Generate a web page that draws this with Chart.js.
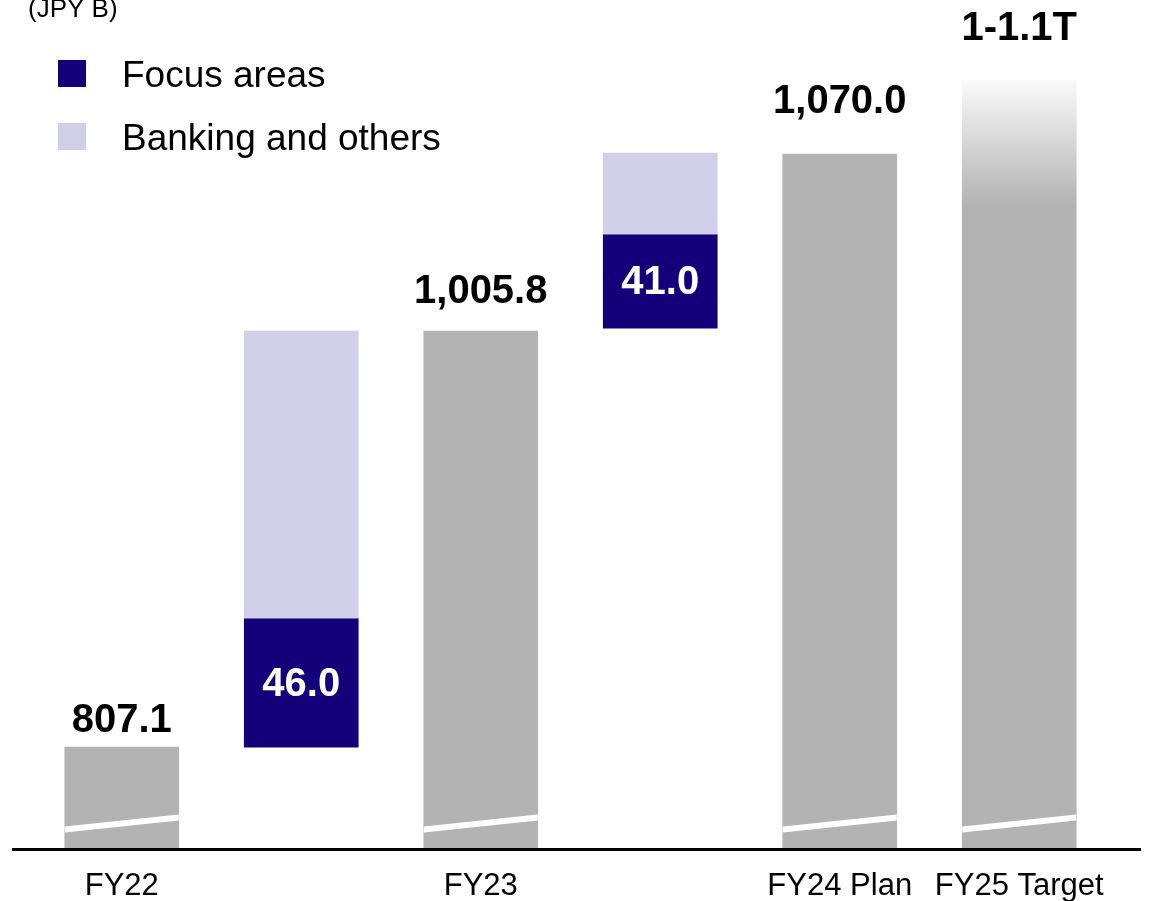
<!DOCTYPE html>
<html>
<head>
<meta charset="utf-8">
<script src="https://cdn.jsdelivr.net/npm/chart.js@4.4.1/dist/chart.umd.min.js"></script>
<style>
  html, body { margin: 0; padding: 0; background: #ffffff; overflow: hidden; }
  #wrap { width: 1153px; height: 901px; position: relative; }
</style>
</head>
<body>
<div id="wrap"><canvas id="c"></canvas></div>
<script>
// ---------------- data ----------------
const unitNote = '(JPY B)';
const categories = ['FY22', '', 'FY23', '', 'FY24 Plan', 'FY25 Target'];

// values printed on the chart (JPY B)
const totalLabels = ['807.1', '', '1,005.8', '', '1,070.0', '1-1.1T'];
const focusLabels = ['', '46.0', '', '41.0', '', ''];

// bar extents as drawn in the (not-to-scale) source, read in JPY B
// against the FY22 (807.1) and FY23 (1,005.8) bars
const totalTops     = [807.1, null, 1005.8, null, 1090.3, 1125.7];
const focusRanges   = [null, [807.1, 868.7], null, [1007.2, 1052.1], null, null];
const bankingRanges = [null, [868.7, 1005.8], null, [1052.1, 1090.8], null, null];

const seriesNames = ['Total', 'Focus areas', 'Banking and others'];

// broken value axis (JPY B)
const Y_MIN = 758.9;
const Y_MAX = 1163.9;

// ---------------- styles ----------------
const FONT = '"Liberation Sans", Arial, Helvetica, sans-serif';
const GRAY = '#B3B3B3';
const FOCUS = '#140078';
const BANK = '#D0D0E8';
const BAR_W = 114;

function totalFill(ctx) {
  const last = categories.length - 1;
  if (ctx.dataIndex !== last) return GRAY;
  const chart = ctx.chart;
  const ys = chart.scales && chart.scales.y;
  if (!chart.chartArea || !ys) return GRAY;
  const top = ys.getPixelForValue(totalTops[last]);
  const g = chart.ctx.createLinearGradient(0, top, 0, top + 125);
  g.addColorStop(0, '#FAFAFA');
  g.addColorStop(1, GRAY);
  return g;
}

function barGeom(chart, el) {
  const p = el.getProps(['x', 'y', 'base', 'width'], true);
  const w = (typeof p.width === 'number' && isFinite(p.width)) ? p.width : BAR_W;
  let base = (typeof p.base === 'number' && isFinite(p.base)) ? p.base : chart.chartArea.bottom;
  base = Math.min(base, chart.chartArea.bottom);
  return { x: p.x, y: p.y, base: base, width: w };
}

const baselinePlugin = {
  id: 'baseline',
  afterDraw(chart, args, opts) {
    const ctx = chart.ctx;
    ctx.save();
    ctx.fillStyle = '#000';
    ctx.fillRect(opts.from, chart.chartArea.bottom, opts.to - opts.from, 3);
    ctx.restore();
  }
};

const labelPlugin = {
  id: 'valueLabels',
  afterDraw(chart, args, opts) {
    const ctx = chart.ctx;
    const totals = chart.getDatasetMeta(0).data;
    const focus = chart.getDatasetMeta(1).data;
    ctx.save();
    // axis-break marks on the total bars
    ctx.fillStyle = '#ffffff';
    totals.forEach((el, i) => {
      if (totalTops[i] == null) return;
      const g = barGeom(chart, el);
      const l = g.x - g.width / 2, r = g.x + g.width / 2, b = g.base;
      ctx.beginPath();
      ctx.moveTo(l, b - 15.5);
      ctx.lineTo(r, b - 27.5);
      ctx.lineTo(r, b - 33.5);
      ctx.lineTo(l, b - 21.5);
      ctx.closePath();
      ctx.fill();
    });
    // totals above bars
    ctx.textAlign = 'center';
    ctx.textBaseline = 'alphabetic';
    ctx.font = 'bold 40px ' + FONT;
    ctx.fillStyle = '#000';
    totalLabels.forEach((t, i) => {
      if (!t) return;
      const g = barGeom(chart, totals[i]);
      ctx.fillText(t, g.x, g.y - opts.gaps[i]);
    });
    // focus-area increments inside bars
    ctx.fillStyle = '#ffffff';
    ctx.textBaseline = 'middle';
    focusLabels.forEach((t, i) => {
      if (!t) return;
      const g = barGeom(chart, focus[i]);
      ctx.fillText(t, g.x, (g.y + g.base) / 2 + 2);
    });
    ctx.restore();
  }
};

const legendPlugin = {
  id: 'sideLegend',
  afterDraw(chart) {
    const ctx = chart.ctx;
    ctx.save();
    ctx.font = '37px ' + FONT;
    ctx.textAlign = 'left';
    ctx.textBaseline = 'middle';
    [1, 2].forEach((di, k) => {
      const ds = chart.data.datasets[di];
      const yc = 73.5 + k * 63;
      ctx.fillStyle = ds.backgroundColor;
      ctx.fillRect(58, yc - 13.5, 28, 27);
      ctx.fillStyle = '#000';
      ctx.fillText(ds.label, 122, yc + 3);
    });
    ctx.font = '26px ' + FONT;
    ctx.textBaseline = 'alphabetic';
    ctx.fillText(unitNote, 28, 17);
    ctx.restore();
  }
};

new Chart(document.getElementById('c'), {
  type: 'bar',
  data: {
    labels: categories,
    datasets: [
      { label: seriesNames[0], data: totalTops, base: Y_MIN, backgroundColor: totalFill, grouped: false, barThickness: BAR_W, order: 3 },
      { label: seriesNames[1], data: focusRanges, backgroundColor: FOCUS, grouped: false, barThickness: BAR_W, order: 2 },
      { label: seriesNames[2], data: bankingRanges, backgroundColor: BANK, grouped: false, barThickness: BAR_W, order: 1 }
    ]
  },
  options: {
    responsive: true,
    maintainAspectRatio: false,
    animation: false,
    layout: { padding: { left: 32, right: 44, top: 0, bottom: 0 } },
    plugins: {
      legend: { display: false },
      tooltip: { enabled: false },
      baseline: { from: 12, to: 1141 },
      valueLabels: { gaps: [15, 0, 28, 0, 41, 40] }
    },
    scales: {
      x: {
        grid: { display: false, drawTicks: false },
        border: { display: false },
        afterFit(scale) { scale.height = 53; },
        ticks: {
          color: '#000',
          padding: 21,
          maxRotation: 0,
          autoSkip: false,
          font: { family: FONT, size: 31, lineHeight: 1.1 }
        }
      },
      y: { display: false, min: Y_MIN, max: Y_MAX }
    }
  },
  plugins: [baselinePlugin, labelPlugin, legendPlugin]
});
</script>
</body>
</html>
